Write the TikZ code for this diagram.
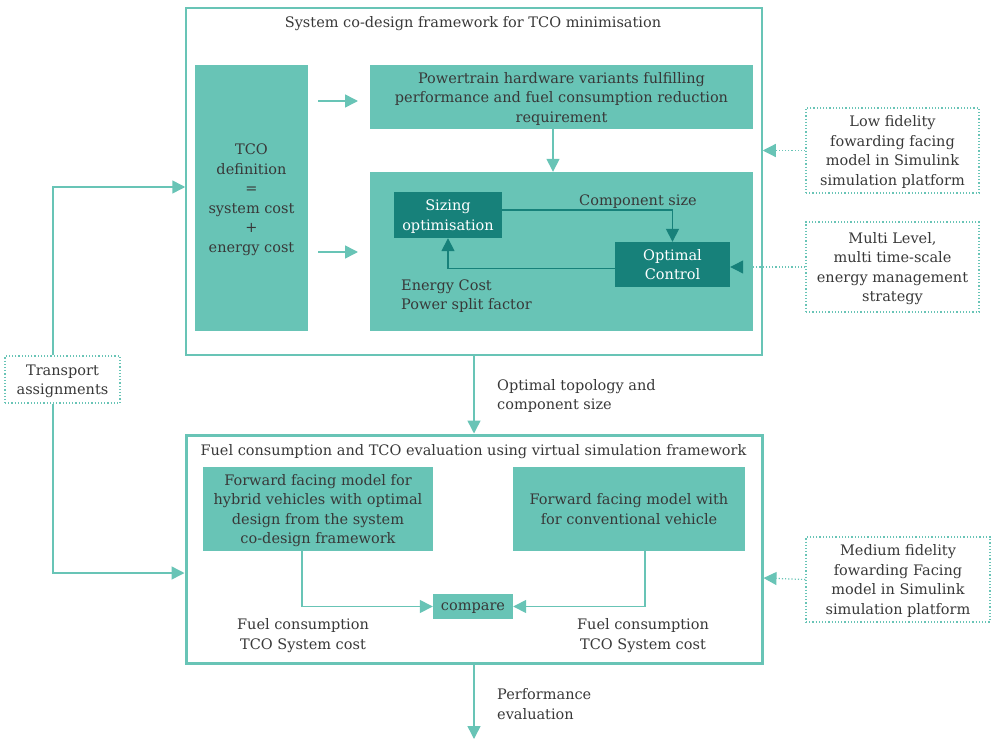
\documentclass[tikz,border=0pt]{standalone}
\usepackage{fontspec}
\setmainfont{DejaVu Serif}
\usetikzlibrary{arrows.meta,calc}
\definecolor{tealA}{HTML}{68C4B6}
\definecolor{tealB}{HTML}{17817A}
\definecolor{ink}{HTML}{383838}
\begin{document}
\begin{tikzpicture}[x=1pt,y=-1pt,
  every node/.style={text=ink, font=\fontsize{14.5}{19.5}\selectfont, align=center, inner sep=0pt, text depth=0pt},
  frame/.style={draw=tealA, line width=#1, minimum width=576pt},
  lbox/.style={fill=tealA},
  dbox/.style={fill=tealB, text=white},
  note/.style={draw=tealA, dotted, line width=1.2pt},
  tip/.style={-{Triangle[length=13pt,width=13pt]}},
  link/.style={tip, draw=tealA, line width=1.5pt},
  dlink/.style={tip, draw=tealB, line width=1.6pt},
  feed/.style={draw=tealA, dotted, line width=1.2pt, -{Triangle[length=13pt,width=13pt,color=#1]}},
  feed/.default=tealA]
\useasboundingbox (0,0) rectangle (993,741);

% system co-design frame
\node[frame=1.5pt, minimum height=347pt] (frameA) at (474,181.5) {};
\node (titleA) at (473,22) {System co-design framework for TCO minimisation};
\node[lbox, minimum width=113pt, minimum height=266pt] (tco) at (251.5,198)
  {TCO\\definition\\=\\system cost\\+\\energy cost};
\node[lbox, minimum width=383pt, minimum height=64pt] (hw) at (561.5,97)
  {Powertrain hardware variants fulfilling\\performance and fuel consumption reduction\\requirement};
\node[lbox, minimum width=383pt, minimum height=159pt] (core) at (561.5,251.5) {};
\node[dbox, minimum width=108pt, minimum height=46pt] (siz) at (448,215) {Sizing\\optimisation};
\node[dbox, minimum width=115pt, minimum height=45pt] (opt) at (672.5,264.5) {Optimal\\Control};
\node (compsize) at (638,200) {Component size};
\node[align=left, anchor=west] (ecost) at (401,294.5) {Energy Cost\\Power split factor};

% side notes
\node[note, minimum width=173pt, minimum height=85pt] (lowfid) at (892.5,150.5)
  {Low fidelity\\fowarding facing\\model in Simulink\\simulation platform};
\node[note, minimum width=173pt, minimum height=90pt] (multi) at (892.5,267)
  {Multi Level,\\multi time-scale\\energy management\\strategy};
\node[note, minimum width=115pt, minimum height=47pt] (transport) at (62.5,379.5)
  {Transport\\assignments};
\node[note, minimum width=184pt, minimum height=85pt] (medfid) at (898,579.5)
  {Medium fidelity\\fowarding Facing\\model in Simulink\\simulation platform};

% evaluation frame
\node[frame=3pt, minimum height=228pt] (frameB) at (474,549) {};
\node (titleB) at (473.5,450) {Fuel consumption and TCO evaluation using virtual simulation framework};
\node[lbox, minimum width=230pt, minimum height=84pt] (hyb) at (318,509)
  {Forward facing model for\\hybrid vehicles with optimal\\design from the system\\co-design framework};
\node[lbox, minimum width=232pt, minimum height=84pt] (conv) at (629,509)
  {Forward facing model with\\for conventional vehicle};
\node[lbox, minimum width=80pt, minimum height=25pt] (cmp) at (473,606.5) {compare};
\node (resL) at (303,634) {Fuel consumption\\TCO System cost};
\node (resR) at (643,634) {Fuel consumption\\TCO System cost};

% labels on the flow between frames
\node[align=left, anchor=west] (topo) at (497,394.5) {Optimal topology and\\component size};
\node[align=left, anchor=west] (perf) at (497,704) {Performance\\evaluation};

% loose ends
\coordinate (t1s) at (318,101);
\coordinate (t1e) at (358,101);
\coordinate (t2s) at (318,252);
\coordinate (t2e) at (358,252);
\coordinate (yA) at (0,187);
\coordinate (yB) at (0,573);
\coordinate (out) at (474,739);

% connectors
\draw[link] (t1s) -- (t1e);
\draw[link] (t2s) -- (t2e);
\draw[link] ([xshift=-8.5pt]hw.south) -- ([xshift=-8.5pt]core.north);
\draw[dlink] ([yshift=5pt]siz.east) -| (opt.north);
\draw[dlink] ([yshift=-4pt]opt.west) -| (siz.south);
\draw[feed] (lowfid.west) -- (lowfid.west -| frameA.east);
\draw[feed=tealB] (multi.west) -- (multi.west -| opt.east);
\draw[feed] (medfid.west) -- ([yshift=1.5pt]medfid.west -| frameB.east);
\draw[link] ([xshift=-9.5pt]transport.north) |- (frameA.west |- yA);
\draw[link] ([xshift=-9.5pt]transport.south) |- (frameB.west |- yB);
\draw[link] (frameA.south) -- (frameB.north);
\draw[link] (frameB.south) -- (out);
\draw[link] ([xshift=-16pt]hyb.south) |- (cmp.west);
\draw[link] ([xshift=16pt]conv.south) |- (cmp.east);
\end{tikzpicture}
\end{document}
